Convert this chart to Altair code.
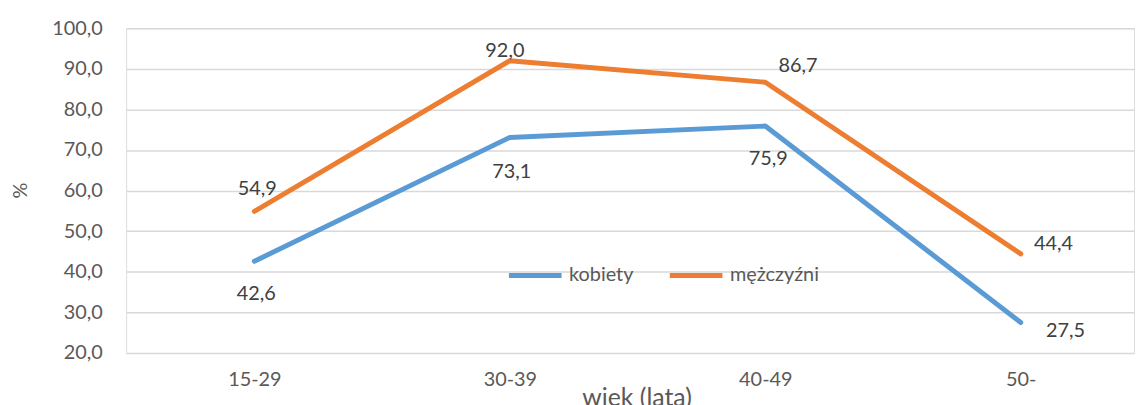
import altair as alt
import pandas as pd

categories = ["15-29", "30-39", "40-49", "50-"]
series_names = ["kobiety", "mężczyźni"]
kobiety = [42.6, 73.1, 75.9, 27.5]
mezczyzni = [54.9, 92.0, 86.7, 44.4]
y_ticks = [20, 30, 40, 50, 60, 70, 80, 90, 100]
colors = ["#5B9BD5", "#ED7D31"]

rows = []
for s, vals in zip(series_names, [kobiety, mezczyzni]):
    for c, v in zip(categories, vals):
        rows.append({"wiek": c, "seria": s, "wartosc": v})
df = pd.DataFrame(rows)

# text placement style (pixel offsets of each data label from its point)
label_style = {
    ("mężczyźni", "15-29"): (3, -22),
    ("kobiety", "15-29"): (2, 33),
    ("mężczyźni", "30-39"): (-5, -10),
    ("kobiety", "30-39"): (2, 35),
    ("mężczyźni", "40-49"): (33, -16),
    ("kobiety", "40-49"): (3, 33),
    ("mężczyźni", "50-"): (33, -10),
    ("kobiety", "50-"): (45, 9),
}

FONT = "Lato"
FS = 20

base = alt.Chart(df).transform_calculate(
    label="replace(format(datum.wartosc, '.1f'), '.', ',')"
).encode(
    x=alt.X(
        "wiek:N",
        sort=categories,
        scale=alt.Scale(type="point", padding=0.4725, align=0.531),
        axis=alt.Axis(
            title="wiek (lata)",
            labelAngle=0,
            domain=False,
            ticks=False,
            grid=False,
            labelPadding=17,
            labelFontSize=FS,
            labelColor="#595959",
            labelFont=FONT,
            titleFont=FONT,
            titleFontSize=25,
            titleFontWeight="normal",
            titleColor="#595959",
            titleBaseline="top",
            titleAlign="center",
            titleX=514,
            titleY=33,
        ),
    ),
    y=alt.Y(
        "wartosc:Q",
        scale=alt.Scale(domain=[20, 100], nice=False, zero=False),
        axis=alt.Axis(
            title="%",
            values=y_ticks,
            labelExpr="replace(format(datum.value, '.1f'), '.', ',')",
            domain=False,
            ticks=False,
            grid=True,
            gridColor="#d9d9d9",
            gridWidth=1.5,
            labelPadding=24,
            labelFontSize=FS,
            labelColor="#595959",
            labelFont=FONT,
            titleFont=FONT,
            titleFontSize=FS,
            titleFontWeight="normal",
            titleColor="#595959",
            titleX=-106,
            titleY=163,
            titleAlign="center",
            titleBaseline="middle",
        ),
    ),
)

lines = base.mark_line(strokeWidth=5, strokeCap="round", strokeJoin="round").encode(
    color=alt.Color(
        "seria:N",
        scale=alt.Scale(domain=series_names, range=colors),
        legend=alt.Legend(
            title=None,
            orient="none",
            legendX=383,
            legendY=220,
            direction="horizontal",
            symbolType="stroke",
            symbolSize=2809,
            symbolStrokeWidth=5,
            labelFontSize=FS,
            labelFont=FONT,
            labelColor="#595959",
            labelOffset=5,
            columnPadding=26,
            padding=0,
        ),
    )
)

layers = [lines]
for (s, c), (dx, dy) in label_style.items():
    layers.append(
        base.transform_filter(
            (alt.datum.seria == s) & (alt.datum.wiek == c)
        ).mark_text(
            dx=dx, dy=dy, fontSize=FS, font=FONT, color="#404040",
            align="center", baseline="middle",
        ).encode(text="label:N")
    )

chart = alt.layer(*layers).properties(
    width=1015,
    height=327,
    autosize=alt.AutoSizeParams(type="none"),
    padding={"left": 119, "top": 19, "right": 3, "bottom": 51},
).configure_view(stroke=None).configure(background="white")

chart.save("out.html", embed_options={"renderer": "svg", "actions": False})
